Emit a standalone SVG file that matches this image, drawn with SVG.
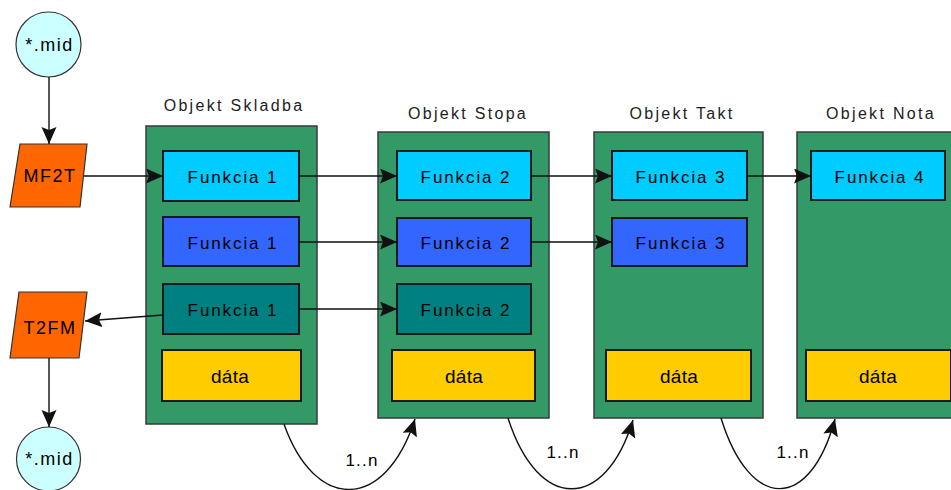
<svg xmlns="http://www.w3.org/2000/svg" width="951" height="490" viewBox="0 0 951 490">
  <style>
    .obj { fill: #339966; stroke: #3a3a3a; stroke-width: 1.5; }
    .fn { stroke: #1a1a1a; stroke-width: 2; }
    .f-cyan { fill: #00CCFF; }
    .f-blue { fill: #3366FF; }
    .f-teal { fill: #008080; }
    .data { fill: #FFCC00; stroke: #1a1a1a; stroke-width: 2; }
    .io { fill: #FF6600; stroke: #333; stroke-width: 1.2; }
    .file { fill: #CCFFFF; stroke: #333; stroke-width: 1.2; }
    text { font-family: "Liberation Sans", Arial, sans-serif; fill: #000; }
    .title { font-size: 16px; letter-spacing: 2.3px; text-anchor: middle; fill: #222; }
    .lbl { font-size: 17px; letter-spacing: 1.9px; text-anchor: middle; }
    .dlbl { font-size: 19px; letter-spacing: 0.3px; text-anchor: middle; }
    .big { font-size: 18px; letter-spacing: 1.5px; text-anchor: middle; }
    .mult { font-size: 17px; letter-spacing: 1.2px; text-anchor: middle; }
    .edge { fill: none; stroke: #111; stroke-width: 1.4; marker-end: url(#arrow); }
  </style>
  <defs>
    <marker id="arrow" markerUnits="userSpaceOnUse" markerWidth="19" markerHeight="16" refX="17" refY="7.5" orient="auto">
      <path d="M0,0 L17,7.5 L0,15 L3,7.5 z" fill="#111"/>
    </marker>
  </defs>

  <!-- input / output files and converters -->
  <g id="mid-in">
    <circle class="file" cx="48.5" cy="44.5" r="32.5"/>
    <text class="big" x="49.5" y="51">*.mid</text>
  </g>
  <g id="mf2t">
    <polygon class="io" points="20,144 87,144 80,207 10,207"/>
    <text class="big" x="50" y="182">MF2T</text>
  </g>
  <g id="t2fm">
    <polygon class="io" points="19,292 87,292 79,358 10,358"/>
    <text class="big" x="50" y="334">T2FM</text>
  </g>
  <g id="mid-out">
    <circle class="file" cx="48.5" cy="459" r="32"/>
    <text class="big" x="49.5" y="465">*.mid</text>
  </g>

  <!-- Objekt Skladba -->
  <g id="skladba">
    <text class="title" x="234" y="111">Objekt Skladba</text>
    <rect class="obj" x="146" y="126" width="171" height="298"/>
    <rect class="fn f-cyan" x="163" y="151" width="136" height="50"/>
    <text class="lbl" x="233" y="183">Funkcia 1</text>
    <rect class="fn f-blue" x="163" y="217" width="136" height="49"/>
    <text class="lbl" x="233" y="249">Funkcia 1</text>
    <rect class="fn f-teal" x="163" y="284" width="136" height="50"/>
    <text class="lbl" x="233" y="316">Funkcia 1</text>
    <rect class="data" x="162" y="350" width="139" height="51"/>
    <text class="dlbl" x="230" y="383">dáta</text>
  </g>

  <!-- Objekt Stopa -->
  <g id="stopa">
    <text class="title" x="468" y="119">Objekt Stopa</text>
    <rect class="obj" x="378" y="132" width="171" height="286"/>
    <rect class="fn f-cyan" x="397" y="151" width="134" height="49"/>
    <text class="lbl" x="466" y="183">Funkcia 2</text>
    <rect class="fn f-blue" x="397" y="218" width="134" height="48"/>
    <text class="lbl" x="466" y="249">Funkcia 2</text>
    <rect class="fn f-teal" x="397" y="284" width="134" height="50"/>
    <text class="lbl" x="466" y="316">Funkcia 2</text>
    <rect class="data" x="392" y="350" width="143" height="51"/>
    <text class="dlbl" x="464" y="383">dáta</text>
  </g>

  <!-- Objekt Takt -->
  <g id="takt">
    <text class="title" x="682" y="119">Objekt Takt</text>
    <rect class="obj" x="594" y="132" width="169" height="286"/>
    <rect class="fn f-cyan" x="612" y="151" width="135" height="49"/>
    <text class="lbl" x="681" y="183">Funkcia 3</text>
    <rect class="fn f-blue" x="612" y="218" width="135" height="48"/>
    <text class="lbl" x="681" y="249">Funkcia 3</text>
    <rect class="data" x="606" y="350" width="145" height="51"/>
    <text class="dlbl" x="679" y="383">dáta</text>
  </g>

  <!-- Objekt Nota -->
  <g id="nota">
    <text class="title" x="881" y="119">Objekt Nota</text>
    <rect class="obj" x="797" y="132" width="169" height="286"/>
    <rect class="fn f-cyan" x="811" y="151" width="134" height="49"/>
    <text class="lbl" x="880" y="183">Funkcia 4</text>
    <rect class="data" x="806" y="350" width="145" height="51"/>
    <text class="dlbl" x="878" y="383">dáta</text>
  </g>

  <!-- connectors -->
  <g id="connectors">
    <line class="edge" x1="49" y1="77" x2="49" y2="144"/>
    <line class="edge" x1="84" y1="176" x2="163" y2="176"/>
    <line class="edge" x1="299" y1="176" x2="397" y2="176"/>
    <line class="edge" x1="531" y1="176" x2="612" y2="176"/>
    <line class="edge" x1="747" y1="176" x2="811" y2="176"/>
    <line class="edge" x1="299" y1="242" x2="397" y2="242"/>
    <line class="edge" x1="531" y1="242" x2="612" y2="242"/>
    <line class="edge" x1="299" y1="309" x2="397" y2="309"/>
    <line class="edge" x1="163" y1="315" x2="85" y2="321"/>
    <line class="edge" x1="49" y1="358" x2="49" y2="427"/>
    <path class="edge" d="M284,424 C315,512 385,512 415,419"/>
    <path class="edge" d="M508,418 C538,512 605,512 633,420"/>
    <path class="edge" d="M721,418 C750,512 810,512 835,419"/>
    <text class="mult" x="362" y="466">1..n</text>
    <text class="mult" x="563" y="458">1..n</text>
    <text class="mult" x="793" y="458">1..n</text>
  </g>
</svg>
